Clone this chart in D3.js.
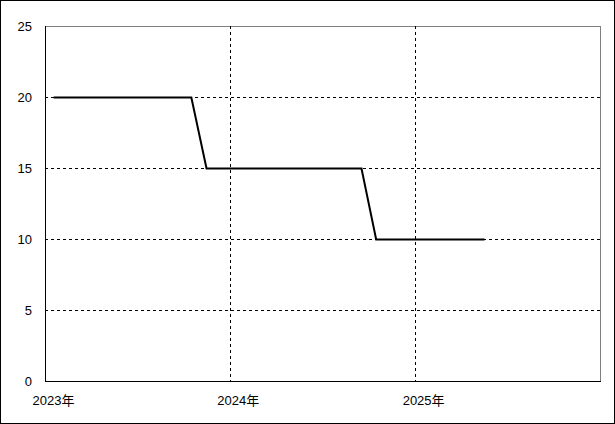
<!DOCTYPE html>
<html>
<head>
<meta charset="utf-8">
<script src="https://cdn.jsdelivr.net/npm/d3@7"></script>
<style>
  html, body { margin: 0; padding: 0; background: #fff; }
  svg { display: block; }
  text { font-family: "Liberation Sans", "Noto Sans CJK JP", sans-serif; font-size: 13px; fill: #000; }
</style>
</head>
<body>
<script>
// Data
const dates = ["2023-01-18", "2023-10-17", "2023-11-16", "2024-09-17", "2024-10-16", "2025-05-18"];
const values = [20, 20, 15, 15, 10, 10];
const yTicks = [0, 5, 10, 15, 20, 25];
const xTickYears = [2023, 2024, 2025];
const xTickLabels = ["2023年", "2024年", "2025年"];

const W = 615, H = 424;
const margin = { left: 45, top: 26, right: 15, bottom: 43 };
const parse = d3.timeParse("%Y-%m-%d");
const data = dates.map((d, i) => ({ date: parse(d), value: values[i] }));

const svg = d3.select("body").append("svg").attr("width", W).attr("height", H);

// outer border
svg.append("rect").attr("x", 0.5).attr("y", 0.5).attr("width", W - 1).attr("height", H - 1)
  .attr("fill", "#fff").attr("stroke", "#000");

const x = d3.scaleTime()
  .domain([new Date(2023, 0, 1), new Date(2026, 0, 1)])
  .range([margin.left, W - margin.right]);
const y = d3.scaleLinear().domain([0, 25]).range([H - margin.bottom, margin.top]);

const x0 = x.range()[0], x1 = x.range()[1], y0 = y.range()[0], y1 = y.range()[1];

// plot frame (top/right gray)
svg.append("line").attr("x1", x0).attr("x2", x1 + 0.5).attr("y1", y1 + 0.5).attr("y2", y1 + 0.5)
  .attr("stroke", "#808080");
svg.append("line").attr("x1", x1 + 0.5).attr("x2", x1 + 0.5).attr("y1", y1).attr("y2", y0)
  .attr("stroke", "#808080");

// horizontal grid
svg.append("g").selectAll("line").data(yTicks.filter(t => t > 0 && t < 25)).join("line")
  .attr("x1", x0).attr("x2", x1)
  .attr("y1", d => Math.round(y(d)) + 0.5).attr("y2", d => Math.round(y(d)) + 0.5)
  .attr("stroke", "#000").attr("stroke-dasharray", "3,3");

// vertical grid
svg.append("g").selectAll("line").data(xTickYears.slice(1)).join("line")
  .attr("x1", d => Math.round(x(new Date(d, 0, 1))) + 0.5)
  .attr("x2", d => Math.round(x(new Date(d, 0, 1))) + 0.5)
  .attr("y1", y1).attr("y2", y0)
  .attr("stroke", "#000").attr("stroke-dasharray", "3,3");

// axes (left & bottom black)
svg.append("line").attr("x1", x0 + 0.5).attr("x2", x0 + 0.5).attr("y1", y1).attr("y2", y0 + 1)
  .attr("stroke", "#000");
svg.append("line").attr("x1", x0).attr("x2", x1 + 1).attr("y1", y0 + 0.5).attr("y2", y0 + 0.5)
  .attr("stroke", "#000");

// y labels
svg.append("g").selectAll("text").data(yTicks).join("text")
  .attr("x", 32).attr("y", d => y(d) + 5)
  .attr("text-anchor", "end")
  .text(d => d);

// x labels
svg.append("g").selectAll("text").data(xTickYears).join("text")
  .attr("x", d => x(new Date(d, 0, 1)) - 12.5)
  .attr("y", 405)
  .attr("text-anchor", "start")
  .text((d, i) => xTickLabels[i]);

// line
const line = d3.line().x(d => x(d.date)).y(d => Math.round(y(d.value)) + 0.5);
svg.append("path").datum(data)
  .attr("d", line)
  .attr("fill", "none").attr("stroke", "#000").attr("stroke-width", 2);
</script>
</body>
</html>
